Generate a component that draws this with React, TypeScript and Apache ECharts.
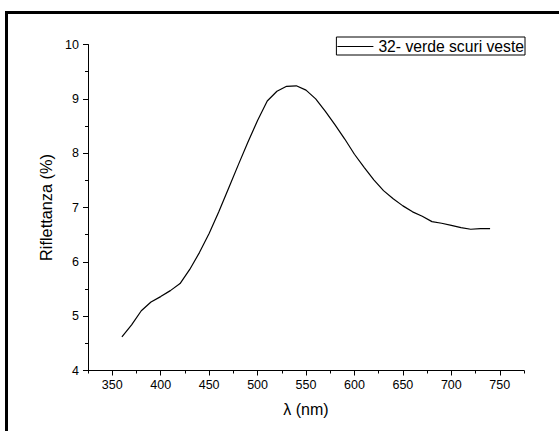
import React, { useEffect, useRef } from "react";
import * as echarts from "echarts";

const wavelengths: number[] = [
  360, 370, 380, 390, 400, 410, 420, 430, 440, 450, 460, 470, 480, 490, 500,
  510, 520, 530, 540, 550, 560, 570, 580, 590, 600, 610, 620, 630, 640, 650,
  660, 670, 680, 690, 700, 710, 720, 730, 740,
];
const reflectance: number[] = [
  4.62, 4.84, 5.1, 5.26, 5.36, 5.47, 5.6, 5.86, 6.17, 6.52, 6.92, 7.35, 7.78,
  8.2, 8.6, 8.96, 9.14, 9.23, 9.24, 9.16, 9.0, 8.77, 8.52, 8.26, 7.98, 7.74,
  7.51, 7.31, 7.16, 7.03, 6.92, 6.84, 6.74, 6.71, 6.67, 6.63, 6.6, 6.61, 6.61,
];
const seriesName = "32- verde scuri veste";
const xMajorTicks: number[] = [350, 400, 450, 500, 550, 600, 650, 700, 750];
const xMinorTicks: number[] = [325, 375, 425, 475, 525, 575, 625, 675, 725, 775];

const FONT = "Liberation Sans, Arial, sans-serif";

export default function App() {
  const ref = useRef<HTMLDivElement>(null);
  useEffect(() => {
    document.body.style.margin = "0";
    if (!ref.current) return;
    const chart = echarts.init(ref.current, undefined, { renderer: "svg" });
    const data = wavelengths.map((w, i) => [w, reflectance[i]]);
    chart.setOption({
      animation: false,
      backgroundColor: "#ffffff",
      grid: { left: 88, top: 44.5, right: 35, bottom: 60.5, containLabel: false },
      legend: {
        show: true,
        data: [{ name: seriesName, icon: "rect" }],
        right: 34,
        top: 37,
        orient: "horizontal",
        borderColor: "#000",
        borderWidth: 1,
        borderRadius: 0,
        padding: [1, 1, 0, 1],
        itemWidth: 36,
        itemHeight: 1,
        itemStyle: { color: "#000" },
        textStyle: { fontFamily: FONT, fontSize: 15.7, color: "#000", lineHeight: 17 },
      },
      xAxis: [
        {
          type: "value",
          min: 325,
          max: 775,
          position: "bottom",
          name: "λ (nm)",
          nameLocation: "middle",
          nameGap: 31,
          nameTextStyle: { fontFamily: FONT, fontSize: 16, color: "#000" },
          axisLine: { show: true, onZero: false, lineStyle: { color: "#000", width: 1 } },
          axisTick: {
            show: true,
            inside: false,
            length: 5,
            customValues: xMajorTicks,
            lineStyle: { color: "#000", width: 1 },
          },
          axisLabel: {
            show: true,
            customValues: xMajorTicks,
            margin: 8,
            fontFamily: FONT,
            fontSize: 12.5,
            color: "#000",
          },
          splitLine: { show: false },
        },
        {
          type: "value",
          min: 325,
          max: 775,
          position: "bottom",
          axisLine: { show: false, onZero: false },
          axisTick: {
            show: true,
            inside: false,
            length: 3,
            customValues: xMinorTicks,
            lineStyle: { color: "#000", width: 1 },
          },
          axisLabel: { show: false },
          splitLine: { show: false },
        },
      ],
      yAxis: {
        type: "value",
        min: 4,
        max: 10,
        interval: 1,
        name: "Riflettanza (%)",
        nameLocation: "middle",
        nameGap: 20,
        nameRotate: 90,
        nameTextStyle: { fontFamily: FONT, fontSize: 16.3, color: "#000" },
        axisLine: { show: true, onZero: false, lineStyle: { color: "#000", width: 1 } },
        axisTick: { show: true, inside: false, length: 5, lineStyle: { color: "#000", width: 1 } },
        minorTick: { show: true, splitNumber: 2, length: 3, lineStyle: { color: "#000", width: 1 } },
        axisLabel: { margin: 9, fontFamily: FONT, fontSize: 12.5, color: "#000" },
        splitLine: { show: false },
        minorSplitLine: { show: false },
      },
      series: [
        {
          name: seriesName,
          type: "line",
          xAxisIndex: 0,
          data,
          symbol: "none",
          smooth: false,
          lineStyle: { color: "#000", width: 1.2 },
          itemStyle: { color: "#000" },
        },
      ],
      graphic: [
        {
          type: "rect",
          shape: { x: 6.5, y: 12.5, width: 700, height: 600 },
          style: { fill: "none", stroke: "#000", lineWidth: 3 },
          silent: true,
          z: 100,
        },
      ],
    });
    return () => chart.dispose();
  }, []);
  return <div ref={ref} style={{ width: 559, height: 431 }} />;
}
